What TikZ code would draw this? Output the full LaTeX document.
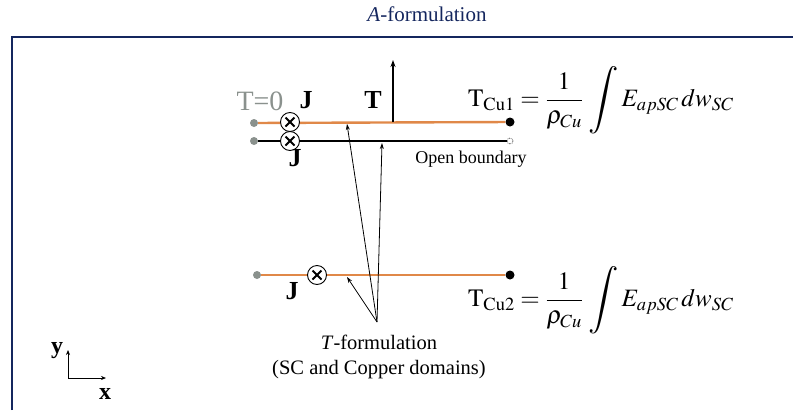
\documentclass[tikz,border=0pt]{standalone}
\usepackage{mathptmx}
\usepackage{fontspec}
\setmainfont{Liberation Serif}
\usetikzlibrary{arrows.meta}
\definecolor{navy}{HTML}{14265E}
\definecolor{cuorange}{HTML}{E08848}
\definecolor{dotgray}{HTML}{8A918D}
\newcommand{\bigint}{\mathop{\vcenter{\hbox{\scalebox{1.35}{$\displaystyle\int$}}}}}
\tikzset{
  gdot/.style={circle,fill=dotgray,inner sep=0pt,minimum size=8pt},
  bdot/.style={circle,fill=black,inner sep=0pt,minimum size=9pt},
  cross/.style={circle,draw,fill=white,line width=0.9pt,inner sep=0pt,minimum size=19pt,
    path picture={\draw[line width=1.8pt] ([shift={(-4.5pt,-4.5pt)}]path picture bounding box.center) -- ([shift={(4.5pt,4.5pt)}]path picture bounding box.center);
                  \draw[line width=1.8pt] ([shift={(-4.5pt,4.5pt)}]path picture bounding box.center) -- ([shift={(4.5pt,-4.5pt)}]path picture bounding box.center);}},
  cu/.style={cuorange,line width=2.4pt},
  sc/.style={black,line width=2.4pt},
  lbl/.style={inner sep=0pt,font=\fontsize{26}{26}\selectfont\bfseries},
  ptr/.style={-{Stealth[length=6pt,width=4pt]},line width=0.8pt},
  frm/.style={inner sep=0pt,anchor=west,font=\fontsize{25}{25}\selectfont}
}
\begin{document}
\begin{tikzpicture}[x=1pt,y=-1pt]
\useasboundingbox (0,0) rectangle (793,410);
% frame
\draw[navy,line width=2pt] (12,410) -- (12,37) -- (793,37);
\node[navy,inner sep=0pt,font=\fontsize{21}{21}\selectfont] (title) at (427,14) {\textit{A}-formulation};
% top copper
\node[gdot] (g1) at (254,123) {};
\node[bdot] (b1) at (510,122) {};
\draw[cu] (g1) -- (b1);
% SC line
\node[gdot] (g2) at (254,141) {};
\node[circle,draw,densely dotted,line width=0.6pt,inner sep=0pt,minimum size=6pt] (o2) at (510,141) {};
\draw[sc] (g2) -- (o2);
% crosses
\node[cross] (c1) at (290,122) {};
\node[cross] (c2) at (290,141) {};
% bottom copper
\node[gdot] (g3) at (257,275) {};
\node[bdot] (b3) at (510,275) {};
\draw[cu] (g3) -- (b3);
\node[cross] (c3) at (317,275) {};
% T vertical arrow
\coordinate (tbase) at (393,122);
\coordinate (ttop) at (393,60);
\draw[-{Stealth[length=7pt,width=5pt]},line width=1.4pt] (tbase) -- (ttop);
% labels
\node[inner sep=0pt,text=dotgray,font=\fontsize{28}{28}\selectfont] (t0) at (260,101) {T=0};
\node[lbl] (j1) at (306,100) {J};
\node[lbl] (tt) at (373,100) {T};
\node[lbl] (j2) at (295,158) {J};
\node[lbl] (j3) at (292,291) {J};
\node[inner sep=0pt,font=\fontsize{18}{18}\selectfont] (ob) at (471,159) {Open boundary};
% formulas
\node[frm] (f1) at (468,100) {$\mathrm{T}_{\mathrm{Cu1}} = \displaystyle\frac{1}{\rho_{Cu}}\,\bigint E_{apSC}\,dw_{SC}$};
\node[frm] (f2) at (468,300) {$\mathrm{T}_{\mathrm{Cu2}} = \displaystyle\frac{1}{\rho_{Cu}}\,\bigint E_{apSC}\,dw_{SC}$};
% T-formulation pointers
\coordinate (conv) at (377,322);
\coordinate (p1) at (347,124);
\coordinate (p2) at (382,143);
\coordinate (p3) at (347,277);
\draw[ptr] (conv) -- (p1);
\draw[ptr] (conv) -- (p2);
\draw[ptr] (conv) -- (p3);
\node[inner sep=0pt,align=center,font=\fontsize{20.5}{25}\selectfont] (tf) at (379,357) {\textit{T}-formulation\\(SC and Copper domains)};
% axes
\coordinate (org) at (68,378);
\coordinate (ya) at (68,350);
\coordinate (xa) at (106,378);
\draw[-{Stealth[length=5pt,width=4pt]},line width=0.7pt] (org) -- (ya);
\draw[-{Stealth[length=5pt,width=4pt]},line width=0.7pt] (org) -- (xa);
\node[lbl,font=\fontsize{24}{24}\selectfont\bfseries] (ylab) at (57,351) {y};
\node[lbl,font=\fontsize{24}{24}\selectfont\bfseries] (xlab) at (105,394) {x};
\end{tikzpicture}
\end{document}
